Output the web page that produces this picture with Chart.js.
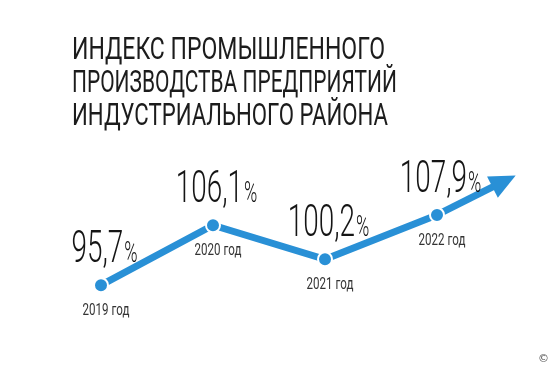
<!DOCTYPE html>
<html lang="ru">
<head>
<meta charset="utf-8">
<title>Индекс промышленного производства</title>
<script src="https://cdn.jsdelivr.net/npm/chart.js@4/dist/chart.umd.min.js"></script>
<style>
  html, body { margin: 0; padding: 0; background: #fff; }
  #wrap { position: relative; width: 558px; height: 373px; overflow: hidden; }
  #chart { position: absolute; left: 0; top: 0; }
  #title {
    position: absolute; left: 72px; top: 32px;
    font: 400 31px Roboto, sans-serif; line-height: 33px;
    color: #1c1c1c; white-space: nowrap;
  }
  #title div { transform-origin: 0 0; }
  #copy {
    position: absolute; left: 538px; top: 352px;
    font: 11px "DejaVu Sans", sans-serif; color: #555;
  }
</style>
</head>
<body>
<div id="wrap">
  <canvas id="chart" width="558" height="373"></canvas>
  <div id="title">
    <div data-w="313">ИНДЕКС ПРОМЫШЛЕННОГО</div>
    <div data-w="325">ПРОИЗВОДСТВА ПРЕДПРИЯТИЙ</div>
    <div data-w="316">ИНДУСТРИАЛЬНОГО РАЙОНА</div>
  </div>
  <div id="copy">©</div>
</div>
<script>
const years = ["2019 год", "2020 год", "2021 год", "2022 год"];
const values = [95.7, 106.1, 100.2, 107.9];
const valueLabels = ["95,7", "106,1", "100,2", "107,9"];

const blue = "#2990d6";

// squeeze each title line like a condensed face
const mc = document.createElement("canvas").getContext("2d");
mc.font = "400 31px Roboto";
document.querySelectorAll("#title div").forEach((line) => {
  const natural = mc.measureText(line.textContent).width;
  line.style.transform = "scaleX(" + (Number(line.dataset.w) / natural) + ")";
});

// draw text squeezed horizontally
function squeezed(ctx, text, x, y, font, sx) {
  ctx.save();
  ctx.font = font;
  ctx.translate(x, y);
  ctx.scale(sx, 1);
  ctx.fillText(text, 0, 0);
  ctx.restore();
}
function squeezedWidth(ctx, text, font, sx) {
  ctx.save();
  ctx.font = font;
  const w = ctx.measureText(text).width * sx;
  ctx.restore();
  return w;
}

const arrowPlugin = {
  id: "arrow",
  beforeDatasetsDraw(chart) {
    const pts = chart.getDatasetMeta(0).data;
    const a = pts[pts.length - 2], b = pts[pts.length - 1];
    // keep going in the direction of the last segment, tilted up a little
    const ang = Math.atan2(b.y - a.y, b.x - a.x) - 5 * Math.PI / 180;
    const dx = Math.cos(ang), dy = Math.sin(ang);
    const reach = 88, head = 26, half = 12;
    const tipX = b.x + dx * reach, tipY = b.y + dy * reach;
    const baseX = tipX - dx * head, baseY = tipY - dy * head;
    const ctx = chart.ctx;
    ctx.save();
    ctx.strokeStyle = blue;
    ctx.lineWidth = 7;
    ctx.beginPath();
    ctx.moveTo(b.x, b.y);
    ctx.lineTo(baseX + dx * 2, baseY + dy * 2);
    ctx.stroke();
    ctx.fillStyle = blue;
    ctx.beginPath();
    ctx.moveTo(tipX, tipY);
    ctx.lineTo(baseX - dy * half, baseY + dx * half);
    ctx.lineTo(baseX + dy * half, baseY - dx * half);
    ctx.closePath();
    ctx.fill();
    ctx.restore();
  }
};

const labelPlugin = {
  id: "labels",
  afterDatasetsDraw(chart) {
    const ctx = chart.ctx;
    const pts = chart.getDatasetMeta(0).data;
    const bigFont = "300 45px Roboto";
    const pctFont = "300 30px Roboto";
    const yearFont = "400 17px Roboto";
    ctx.save();
    ctx.textBaseline = "alphabetic";
    pts.forEach((p, i) => {
      // value above the point
      ctx.fillStyle = "#151515";
      const w1 = squeezedWidth(ctx, valueLabels[i], bigFont, 0.62);
      const w2 = squeezedWidth(ctx, "%", pctFont, 0.6);
      const left = p.x + 3 - (w1 + w2) / 2;
      const base = p.y - 23;
      squeezed(ctx, valueLabels[i], left, base, bigFont, 0.62);
      squeezed(ctx, "%", left + w1 + 1, base, pctFont, 0.6);
      // year under the point
      ctx.fillStyle = "#333";
      const wy = squeezedWidth(ctx, years[i], yearFont, 0.68);
      squeezed(ctx, years[i], p.x + 5 - wy / 2, p.y + 30, yearFont, 0.68);
    });
    ctx.restore();
  }
};

new Chart(document.getElementById("chart"), {
  type: "line",
  data: {
    labels: years,
    datasets: [{
      data: values,
      borderColor: blue,
      borderWidth: 7,
      tension: 0,
      pointRadius: 7,
      pointBackgroundColor: blue,
      pointBorderColor: "#fff",
      pointBorderWidth: 2,
      clip: false
    }]
  },
  options: {
    responsive: false,
    animation: false,
    layout: { padding: { left: 101, right: 121, top: 174, bottom: 55 } },
    plugins: { legend: { display: false }, tooltip: { enabled: false } },
    scales: {
      x: { display: false },
      y: { display: false, min: 90, max: 115 }
    }
  },
  plugins: [arrowPlugin, labelPlugin]
});
</script>
</body>
</html>
